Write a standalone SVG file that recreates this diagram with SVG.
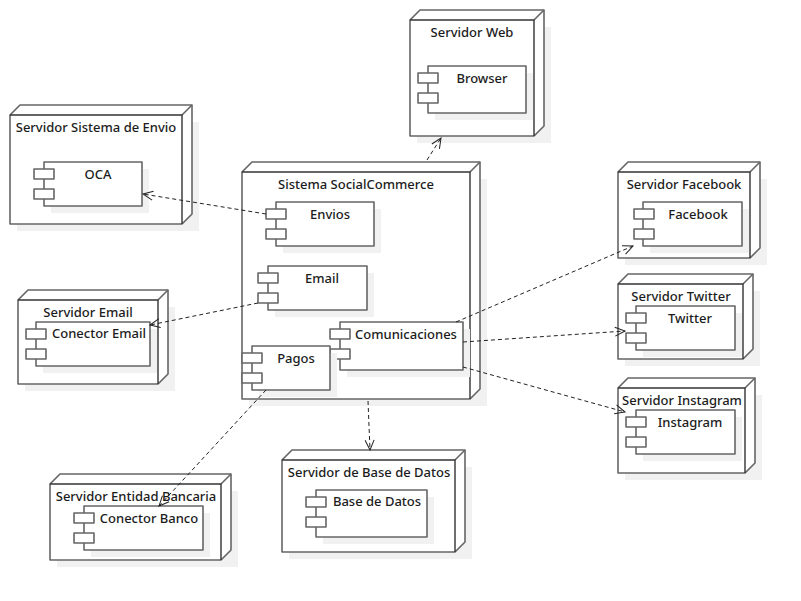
<svg xmlns="http://www.w3.org/2000/svg" width="801" height="601" viewBox="0 0 801 601">
<style>
text{font-family:"Noto Sans","Open Sans","DejaVu Sans",sans-serif;font-size:13px;font-weight:500;fill:#1c1c1c;text-anchor:middle}
.sh{fill:#f1f1f1;stroke:none}
.b{fill:#fff;stroke:#666;stroke-width:1.6;stroke-linejoin:round}
.d{fill:none;stroke:#333;stroke-width:1.4}
.c{fill:none;stroke:#222;stroke-width:1;stroke-dasharray:4 3}
.a{fill:none;stroke:#222;stroke-width:1}
</style>
<defs>
<marker id="arr" markerUnits="userSpaceOnUse" markerWidth="14" markerHeight="14" refX="12" refY="7" orient="auto"><path class="a" d="M2 2.5 L12 7 L2 11.5"/></marker>
</defs>
<rect width="801" height="601" fill="#fff"/>
<g id="n-envio"><path class="sh" d="M17 122H199V231H17Z"/><path class="b" d="M10 115L20 105H192V214L182 224H10Z"/><path class="b" d="M182 115L192 105"/><path class="d" d="M10 115H182V224"/><text x="96" y="132">Servidor Sistema de Envio</text>
<g><rect class="sh" x="51" y="169" width="98" height="44"/><rect class="b" x="44" y="162" width="98" height="44"/><rect class="b" x="34" y="169" width="20" height="10"/><rect class="b" x="34" y="189" width="20" height="10"/><text x="98" y="179">OCA</text></g></g>
<g id="n-web"><path class="sh" d="M417 27H551V143H417Z"/><path class="b" d="M410 20L420 10H544V126L534 136H410Z"/><path class="b" d="M534 20L544 10"/><path class="d" d="M410 20H534V136"/><text x="472" y="37">Servidor Web</text>
<g><rect class="sh" x="435" y="73" width="98" height="47"/><rect class="b" x="428" y="66" width="98" height="47"/><rect class="b" x="418" y="73" width="20" height="10"/><rect class="b" x="418" y="93" width="20" height="10"/><text x="482" y="83">Browser</text></g></g>
<g id="n-sistema"><path class="sh" d="M249 179H487V406H249Z"/><path class="b" d="M242 172L252 162H480V389L470 399H242Z"/><path class="b" d="M470 172L480 162"/><path class="d" d="M242 172H470V399"/><text x="356" y="189">Sistema SocialCommerce</text>
<g id="c-envios"><rect class="sh" x="283" y="209" width="98" height="44"/><rect class="b" x="276" y="202" width="98" height="44"/><rect class="b" x="266" y="209" width="20" height="10"/><rect class="b" x="266" y="229" width="20" height="10"/><text x="330" y="219">Envios</text></g>
<g id="c-email"><rect class="sh" x="275" y="273" width="99" height="44"/><rect class="b" x="268" y="266" width="99" height="44"/><rect class="b" x="258" y="273" width="20" height="10"/><rect class="b" x="258" y="293" width="20" height="10"/><text x="322" y="283">Email</text></g>
<g id="c-com"><rect class="sh" x="347" y="329" width="123" height="48"/><rect class="b" x="340" y="322" width="123" height="48"/><rect class="b" x="330" y="329" width="20" height="10"/><rect class="b" x="330" y="349" width="20" height="10"/><text x="406" y="339">Comunicaciones</text></g>
<g id="c-pagos"><rect class="sh" x="259" y="353" width="78" height="44"/><rect class="b" x="252" y="346" width="78" height="44"/><rect class="b" x="242" y="353" width="20" height="10"/><rect class="b" x="242" y="373" width="20" height="10"/><text x="296" y="363">Pagos</text></g></g>
<g id="n-facebook"><path class="sh" d="M625 179H767V265H625Z"/><path class="b" d="M618 172L628 162H760V248L750 258H618Z"/><path class="b" d="M750 172L760 162"/><path class="d" d="M618 172H750V258"/><text x="684" y="189">Servidor Facebook</text>
<g><rect class="sh" x="650" y="209" width="99" height="44"/><rect class="b" x="643" y="202" width="99" height="44"/><rect class="b" x="634" y="209" width="20" height="10"/><rect class="b" x="634" y="229" width="20" height="10"/><text x="698" y="219">Facebook</text></g></g>
<g id="n-twitter"><path class="sh" d="M625 291H760V366H625Z"/><path class="b" d="M618 284L628 274H753V349L743 359H618Z"/><path class="b" d="M743 284L753 274"/><path class="d" d="M618 284H743V359"/><text x="681" y="301">Servidor Twitter</text>
<g><rect class="sh" x="643" y="313" width="99" height="44"/><rect class="b" x="636" y="306" width="99" height="44"/><rect class="b" x="626" y="313" width="20" height="10"/><rect class="b" x="626" y="333" width="20" height="10"/><text x="690" y="323">Twitter</text></g></g>
<g id="n-instagram"><path class="sh" d="M625 395H762V480H625Z"/><path class="b" d="M618 388L628 378H755V463L745 473H618Z"/><path class="b" d="M745 388L755 378"/><path class="d" d="M618 388H745V473"/><text x="682" y="405">Servidor Instagram</text>
<g><rect class="sh" x="643" y="417" width="99" height="44"/><rect class="b" x="636" y="410" width="99" height="44"/><rect class="b" x="626" y="417" width="20" height="10"/><rect class="b" x="626" y="437" width="20" height="10"/><text x="690" y="427">Instagram</text></g></g>
<g id="n-correo"><path class="sh" d="M25 307H175V391H25Z"/><path class="b" d="M18 300L28 290H168V374L158 384H18Z"/><path class="b" d="M158 300L168 290"/><path class="d" d="M18 300H158V384"/><text x="88" y="317">Servidor Email</text>
<g><rect class="sh" x="43" y="329" width="114" height="44"/><rect class="b" x="36" y="322" width="114" height="44"/><rect class="b" x="26" y="329" width="20" height="10"/><rect class="b" x="26" y="349" width="20" height="10"/><text x="99" y="338">Conector Email</text></g></g>
<g id="n-banco"><path class="sh" d="M57 491H238V567H57Z"/><path class="b" d="M50 484L60 474H231V550L221 560H50Z"/><path class="b" d="M221 484L231 474"/><path class="d" d="M50 484H221V560"/><text x="136" y="501">Servidor Entidad Bancaria</text>
<g><rect class="sh" x="91" y="513" width="119" height="44"/><rect class="b" x="84" y="506" width="119" height="44"/><rect class="b" x="74" y="513" width="20" height="10"/><rect class="b" x="74" y="533" width="20" height="10"/><text x="149" y="523">Conector Banco</text></g></g>
<g id="n-bd"><path class="sh" d="M289 467H472V559H289Z"/><path class="b" d="M282 460L292 450H465V542L455 552H282Z"/><path class="b" d="M455 460L465 450"/><path class="d" d="M282 460H455V552"/><text x="369" y="477">Servidor de Base de Datos</text>
<g><rect class="sh" x="323" y="497" width="111" height="47"/><rect class="b" x="316" y="490" width="111" height="47"/><rect class="b" x="306" y="497" width="20" height="10"/><rect class="b" x="306" y="517" width="20" height="10"/><text x="377" y="506">Base de Datos</text></g></g>
<g id="connectors">
<path class="c" marker-end="url(#arr)" d="M427 160L441 138"/>
<path class="c" marker-end="url(#arr)" d="M266 214L143 194"/>
<path class="c" marker-end="url(#arr)" d="M258 303L150 325"/>
<path class="c" marker-end="url(#arr)" d="M266 390L159 506"/>
<path class="c" marker-end="url(#arr)" d="M368 401L370 450"/>
<path class="c" marker-end="url(#arr)" d="M456 322L633 246"/>
<path class="c" marker-end="url(#arr)" d="M463 342L625 331"/>
<path class="c" marker-end="url(#arr)" d="M463 367L625 412"/>
</g>
</svg>
